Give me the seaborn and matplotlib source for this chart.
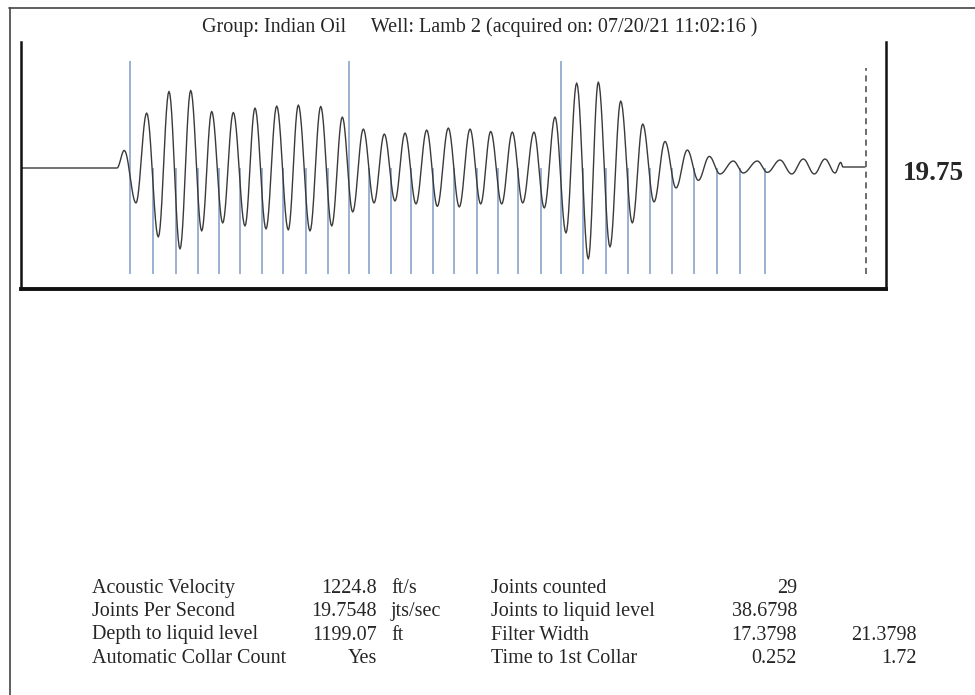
import numpy as np
import pandas as pd
import seaborn as sns
import matplotlib
matplotlib.use("Agg")
import matplotlib.pyplot as plt
from matplotlib.lines import Line2D

# ---- data --------------------------------------------------------------
# time axis in seconds (0 .. 2 s), amplitude in arbitrary units (0 = baseline)
peak_t = [0.000, 0.222, 0.2388, 0.2659, 0.2906, 0.3175, 0.3422, 0.3676, 0.3924,
          0.4178, 0.4409, 0.4664, 0.4909, 0.5179, 0.5410, 0.5665, 0.5912, 0.6180,
          0.6412, 0.6682, 0.6930, 0.7184, 0.7429, 0.7669, 0.7915, 0.8162, 0.8400,
          0.8647, 0.8879, 0.9133, 0.9380, 0.9626, 0.9880, 1.0134, 1.0382, 1.0629,
          1.0860, 1.1114, 1.1360, 1.1600, 1.1861, 1.2099, 1.2347, 1.2601, 1.2848,
          1.3117, 1.3348, 1.3618, 1.3866, 1.4134, 1.4375, 1.4636, 1.4890, 1.5145,
          1.5406, 1.5660, 1.5915, 1.6162, 1.6469, 1.6701, 1.7024, 1.7256, 1.7549,
          1.7820, 1.8088, 1.8342, 1.8590, 1.8821, 1.8953, 1.9006, 1.9514]
peak_amp = [0, 0, 17.6, -35, 55, -69, 76.6, -81, 77.6,
            -63, 56.6, -55, 55.6, -58, 60, -61, 62, -62,
            63, -63, 61.6, -58, 51, -44, 39, -35, 34,
            -33, 35, -36, 38, -38.4, 40, -39, 39, -36,
            36.6, -36, 36, -35, 36, -40, 51, -65, 85,
            -91, 86, -79, 67, -55, 44, -34, 26.6, -20,
            18, -12.4, 11.6, -6, 7, -5, 7, -4.4, 8,
            -6, 9, -6, 9, -5, 5.6, 1, 1]

collar_t = [0.252, 0.305, 0.358, 0.409, 0.458, 0.506, 0.557, 0.606, 0.658, 0.709,
            0.758, 0.805, 0.855, 0.902, 0.953, 1.001, 1.054, 1.103, 1.148, 1.202,
            1.248, 1.299, 1.352, 1.403, 1.454, 1.505, 1.556, 1.609, 1.662, 1.72]
marker_idx = [0, 10, 20]   # every 10th collar drawn full height
liquid_t = 1.954

title = "Group: Indian Oil     Well: Lamb 2 (acquired on: 07/20/21 11:02:16 )"
jps_label = "19.75"

left_labels = ["Acoustic Velocity", "Joints Per Second", "Depth to liquid level",
               "Automatic Collar Count"]
left_values = ["1224.8", "19.7548", "1199.07", "Yes"]
left_units = ["ft/s", "jts/sec", "ft", ""]
right_labels = ["Joints counted", "Joints to liquid level", "Filter Width",
                "Time to 1st Collar"]
right_values = ["29", "38.6798", "17.3798", "0.252"]
right_extra = ["", "", "21.3798", "1.72"]

# ---- smooth trace between the read extrema (half-cosine per segment) ----
ts, amps = [], []
for i in range(len(peak_t) - 1):
    s = np.linspace(0, 1, 12, endpoint=False)
    ts.extend(peak_t[i] + (peak_t[i + 1] - peak_t[i]) * s)
    amps.extend(peak_amp[i] + (peak_amp[i + 1] - peak_amp[i]) * (1 - np.cos(np.pi * s)) / 2)
ts.append(peak_t[-1])
amps.append(peak_amp[-1])
trace = pd.DataFrame({"time": ts, "amp": amps})

# ---- figure -------------------------------------------------------------
sns.set_theme(style="white")
plt.rcParams['font.family'] = ['Liberation Serif', 'DejaVu Serif']

W, H = 975, 695
fig = plt.figure(figsize=(W / 100, H / 100), dpi=100)

def fx(px):
    return px / W

def fy(py):
    return 1 - py / H

ax = fig.add_axes([fx(21), fy(289), fx(886) - fx(21), fy(42) - fy(289)])

sns.lineplot(data=trace, x="time", y="amp", ax=ax, color="#3a3a3a", lw=1.0,
             estimator=None, sort=False)

for i, t in enumerate(collar_t):
    top = 107 if i in marker_idx else 0
    ax.vlines(t, -106, top, color="#7f9cc7", lw=1.1, zorder=1)
ax.vlines(liquid_t, -106, 100, color="#444444", lw=1.1, linestyles=(0, (4, 3)))

ax.set_xlim(0, 2.0)
ax.set_ylim(-121, 126)
ax.set_xticks([])
ax.set_yticks([])
ax.set_xlabel("")
ax.set_ylabel("")
ax.spines["top"].set_visible(False)
ax.spines["left"].set_linewidth(1.8)
ax.spines["right"].set_linewidth(1.8)
ax.spines["bottom"].set_linewidth(2.8)
for side in ["left", "right", "bottom"]:
    ax.spines[side].set_color("#111111")

# page frame (top and left edges)
fig.add_artist(Line2D([fx(9), 1], [fy(8), fy(8)], color="#444444", lw=1.2))
fig.add_artist(Line2D([fx(10), fx(10)], [fy(8), 0], color="#444444", lw=1.2))

fs = 14.5
fig.text(fx(480), fy(32), title, ha="center", va="baseline", fontsize=fs)
fig.text(fx(933), fy(180), jps_label, ha="center", va="baseline", fontsize=19.5,
         fontweight="bold")

rows_y = [593, 616, 639.5, 663]   # text baselines
for i, y in enumerate(rows_y):
    fig.text(fx(92), fy(y), left_labels[i], ha="left", va="baseline", fontsize=fs)
    fig.text(fx(377), fy(y), left_values[i], ha="right", va="baseline", fontsize=fs)
    fig.text(fx(391), fy(y), left_units[i], ha="left", va="baseline", fontsize=fs)
    fig.text(fx(491), fy(y), right_labels[i], ha="left", va="baseline", fontsize=fs)
    fig.text(fx(797), fy(y), right_values[i], ha="right", va="baseline", fontsize=fs)
    fig.text(fx(917), fy(y), right_extra[i], ha="right", va="baseline", fontsize=fs)

fig.savefig("out.png", dpi=100)
